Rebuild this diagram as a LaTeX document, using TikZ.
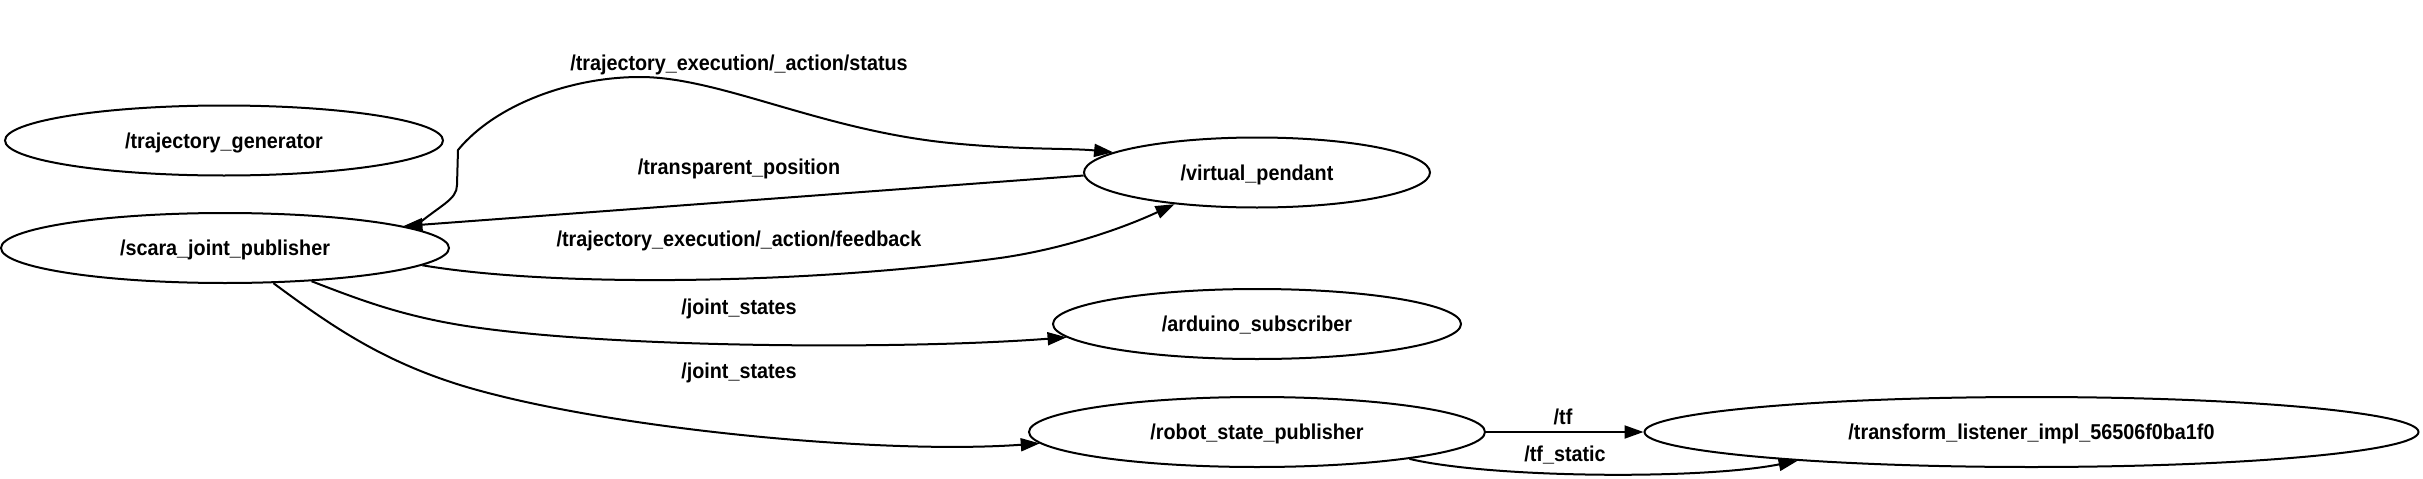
\documentclass[tikz,border=0pt]{standalone}
\usepackage{fontspec}
\newfontfamily\lblfont{Liberation Sans Bold}[FakeStretch=0.92]
\usetikzlibrary{arrows.meta,shapes.geometric}
\begin{document}
\begin{tikzpicture}[x=1pt,y=-1pt,
  every node/.style={font=\lblfont\fontsize{21.5}{24}\selectfont, text height=15pt, text depth=0pt, inner sep=0pt},
  rosnode/.style={draw, ellipse, line width=2pt, minimum height=70pt},
  topicedge/.style={line width=2pt, -{Triangle[length=19pt,width=13pt]}}]
\useasboundingbox (0,0) rectangle (2423,479);
% nodes
\node[rosnode, minimum width=438pt] (tg) at (224,140.5) {/trajectory\_generator};
\node[rosnode, minimum width=448pt] (scara) at (225,248) {/scara\_joint\_publisher};
\node[rosnode, minimum width=346pt] (vp) at (1257,172.5) {/virtual\_pendant};
\node[rosnode, minimum width=408pt] (ard) at (1257,324) {/arduino\_subscriber};
\node[rosnode, minimum width=456pt] (rsp) at (1257,432) {/robot\_state\_publisher};
\node[rosnode, minimum width=774pt] (tl) at (2031.5,432) {/transform\_listener\_impl\_56506f0ba1f0};
% edges
\draw[topicedge] (scara.6) .. controls (440,205) and (457,200) .. (457,185) -- (458,150)
  .. controls (495,105) and (570,77) .. (640,77)
  .. controls (720,77) and (820,130) .. (950,143)
  .. controls (1020,150) and (1070,148) .. (vp.172.5);
\draw[topicedge] (vp.181.5) -- (scara.7.4);
\draw[topicedge] (scara.-5.7) .. controls (550,287) and (800,285) .. (1000,258)
  .. controls (1070,248) and (1130,225) .. (vp.201.9);
\draw[topicedge] (scara.-21.6) .. controls (360,300) and (400,315) .. (460,325)
  .. controls (600,348) and (900,350) .. (ard.184.4);
\draw[topicedge] (scara.-36.7) .. controls (330,325) and (380,360) .. (460,385)
  .. controls (600,428) and (880,455) .. (rsp.183);
\draw[topicedge] (rsp) -- (tl);
\draw[topicedge] (rsp.-10.1) .. controls (1490,478) and (1700,480) .. (tl.187.4);
% labels
\node (l1) at (739,63) {/trajectory\_execution/\_action/status};
\node (l2) at (739,167) {/transparent\_position};
\node (l3) at (739,239) {/trajectory\_execution/\_action/feedback};
\node (l4) at (739,307) {/joint\_states};
\node (l5) at (739,371) {/joint\_states};
\node (l6) at (1563,417) {/tf};
\node (l7) at (1565,454) {/tf\_static};
\end{tikzpicture}
\end{document}
